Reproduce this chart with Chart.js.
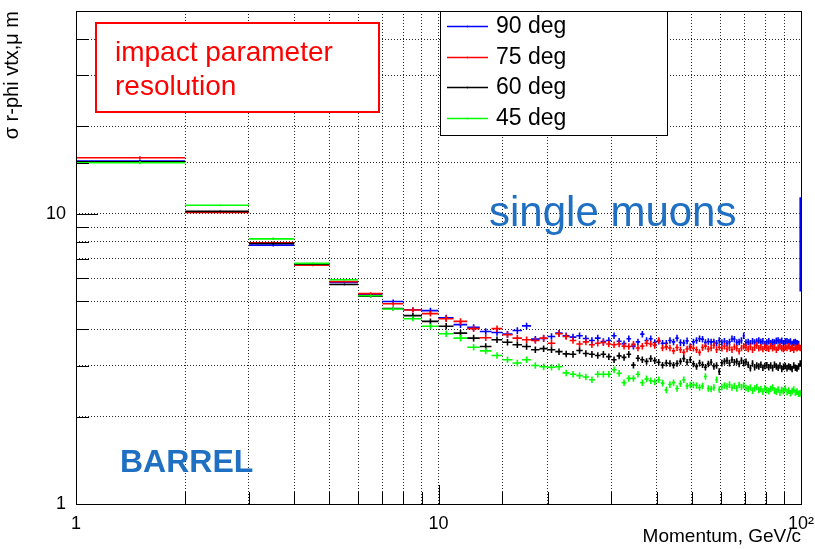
<!DOCTYPE html>
<html>
<head>
<meta charset="utf-8">
<script src="https://cdn.jsdelivr.net/npm/chart.js@4.4.1/dist/chart.umd.min.js"></script>
<style>
  html, body { margin: 0; padding: 0; background: #fff; }
  #wrap { width: 815px; height: 549px; position: relative; }
</style>
</head>
<body>
<div id="wrap"><canvas id="resolucao"></canvas></div>
<script>
// momentum bins: 1 GeV/c wide, from 1 to 100
const pFirst = 1;
const pLast = 100;

const seriesLabels = ["90 deg", "75 deg", "60 deg", "45 deg"];
const seriesColors = ["#0000ff", "#ff0000", "#000000", "#00ff00"];

// sigma r-phi (um), one value per bin
const sigma90 = [
  15.2, 10.15, 7.8, 6.7, 5.8, 5.28, 4.99, 4.67, 4.64, 4.38,
  4.15, 4.06, 3.93, 3.90, 3.85, 3.96, 4.11, 3.70, 3.72, 3.78,
  3.88, 3.80, 3.76, 3.80, 3.72, 3.66, 3.73, 3.63, 3.66, 3.80,
  3.64, 3.57, 3.71, 3.50, 3.62, 3.85, 3.66, 3.71, 3.60, 3.64,
  3.58, 3.58, 3.66, 3.62, 3.73, 3.60, 3.59, 3.65, 3.49, 3.62,
  3.66, 3.71, 3.70, 3.60, 3.63, 3.62, 3.62, 3.58, 3.66, 3.60,
  3.64, 3.58, 3.62, 3.71, 3.70, 3.60, 3.62, 3.66, 3.80, 3.60,
  3.62, 3.58, 3.64, 3.60, 3.63, 3.66, 3.62, 3.64, 3.56, 3.60,
  3.64, 3.58, 3.62, 3.60, 3.65, 3.66, 3.62, 3.65, 3.58, 3.63,
  3.64, 3.60, 3.63, 3.56, 3.60, 3.62, 3.58, 3.56, 8.4
];
const sigma75 = [
  15.6, 10.1, 7.95, 6.65, 5.84, 5.31, 4.90, 4.66, 4.53, 4.35,
  4.26, 4.02, 3.74, 4.02, 3.83, 3.73, 3.68, 3.66, 3.73, 3.58,
  3.86, 3.78, 3.66, 3.56, 3.62, 3.54, 3.58, 3.60, 3.56, 3.54,
  3.56, 3.50, 3.49, 3.55, 3.45, 3.50, 3.58, 3.56, 3.52, 3.66,
  3.45, 3.48, 3.45, 3.37, 3.46, 3.40, 3.33, 3.42, 3.46, 3.44,
  3.40, 3.33, 3.46, 3.50, 3.42, 3.45, 3.52, 3.40, 3.47, 3.44,
  3.50, 3.42, 3.46, 3.40, 3.48, 3.44, 3.36, 3.45, 3.50, 3.46,
  3.42, 3.48, 3.40, 3.46, 3.52, 3.44, 3.47, 3.42, 3.48, 3.45,
  3.43, 3.50, 3.44, 3.47, 3.40, 3.46, 3.49, 3.44, 3.42, 3.47,
  3.45, 3.50, 3.43, 3.46, 3.40, 3.47, 3.44, 3.48, 3.45
];
const sigma60 = [
  15.1, 10.2, 7.9, 6.7, 5.71, 5.20, 4.72, 4.46, 4.26, 4.10,
  3.88, 3.73, 3.49, 3.68, 3.61, 3.54, 3.49, 3.40, 3.43, 3.40,
  3.35, 3.29, 3.28, 3.38, 3.30, 3.28, 3.25, 3.28, 3.22, 3.14,
  3.24, 3.20, 3.28, 3.01, 3.18, 3.14, 3.10, 3.17, 3.12, 3.08,
  3.01, 3.06, 3.05, 3.01, 3.05, 3.10, 3.17, 3.08, 3.14, 3.04,
  2.98, 3.06, 3.02, 2.96, 3.04, 3.08, 2.98, 3.00, 2.86, 3.06,
  3.10, 3.12, 3.06, 3.14, 3.08, 3.10, 3.04, 3.12, 3.06, 3.09,
  3.02, 2.94, 3.05, 2.96, 3.00, 2.98, 3.02, 2.95, 2.99, 3.01,
  2.96, 3.00, 2.94, 3.02, 2.98, 2.95, 3.00, 2.92, 2.97, 2.99,
  2.94, 2.98, 2.96, 2.92, 3.00, 2.95, 2.93, 2.98, 3.05
];
const sigma45 = [
  15.0, 10.7, 8.2, 6.75, 5.93, 5.22, 4.70, 4.35, 4.10, 3.86,
  3.73, 3.47, 3.37, 3.25, 3.14, 3.06, 3.14, 3.00, 2.97, 2.96,
  2.97, 2.83, 2.80, 2.77, 2.74, 2.68, 2.80, 2.80, 2.80, 2.90,
  2.82, 2.62, 2.71, 2.71, 2.80, 2.62, 2.70, 2.66, 2.64, 2.68,
  2.61, 2.47, 2.58, 2.62, 2.50, 2.60, 2.68, 2.55, 2.57, 2.57,
  2.56, 2.52, 2.55, 2.75, 2.50, 2.49, 2.52, 2.68, 2.48, 2.53,
  2.56, 2.54, 2.58, 2.52, 2.55, 2.50, 2.57, 2.53, 2.56, 2.51,
  2.49, 2.52, 2.46, 2.50, 2.53, 2.47, 2.49, 2.44, 2.50, 2.47,
  2.45, 2.49, 2.52, 2.46, 2.44, 2.48, 2.42, 2.47, 2.45, 2.50,
  2.43, 2.46, 2.41, 2.45, 2.48, 2.42, 2.44, 2.40, 2.41
];

// relative errors: first bins read one by one, the rest are all about the same size
const relErrFirstBins = [0.012, 0.008, 0.01, 0.008, 0.008, 0.01, 0.016, 0.02, 0.022];
const relErrOther = 0.026;
const lastBinErr90 = 3.0;

const xTickLabels = { 1: "1", 10: "10", 100: "10\u00b2" };
const yTickLabels = { 1: "1", 10: "10" };

const binEdges = [];
for (let p = pFirst; p <= pLast; p++) binEdges.push(p);

function erroDoBin(valores, i) {
  const r = i < relErrFirstBins.length ? relErrFirstBins[i] : relErrOther;
  return valores[i] * r;
}

// each bin: a horizontal segment over the bin width plus a vertical error bar
function pontosHistograma(valores, erros) {
  const pts = [];
  for (let i = 0; i < valores.length; i++) {
    const lo = binEdges[i], hi = binEdges[i + 1], mid = (lo + hi) / 2;
    const v = valores[i], e = erros[i];
    pts.push({ x: lo, y: v }, { x: hi, y: v }, { x: hi, y: null });
    pts.push({ x: mid, y: v - e }, { x: mid, y: v + e }, { x: mid, y: null });
  }
  return pts;
}

const todasSeries = [sigma90, sigma75, sigma60, sigma45];
const datasets = todasSeries.map((valores, k) => {
  const erros = valores.map((_, i) => erroDoBin(valores, i));
  if (k === 0) erros[erros.length - 1] = lastBinErr90;
  return {
    label: seriesLabels[k],
    data: pontosHistograma(valores, erros),
    borderColor: seriesColors[k],
    backgroundColor: seriesColors[k],
    borderWidth: 1.6,
    pointRadius: 0,
    showLine: true,
    spanGaps: false,
    order: 4 - k,
  };
});

const fonte = "'Liberation Sans', Arial, Helvetica, sans-serif";

const ticksInternos = {
  id: "ticksInternos",
  afterDatasetsDraw(chart) {
    const { ctx, chartArea: a, scales } = chart;
    ctx.save();
    ctx.strokeStyle = "#000";
    ctx.lineWidth = 1;
    ctx.beginPath();
    scales.x.ticks.forEach((t) => {
      const px = Math.round(scales.x.getPixelForValue(t.value)) + 0.5;
      const len = xTickLabels[t.value] ? 19 : 12;
      ctx.moveTo(px, a.bottom);
      ctx.lineTo(px, a.bottom - len);
    });
    scales.y.ticks.forEach((t) => {
      const py = Math.round(scales.y.getPixelForValue(t.value)) + 0.5;
      const len = yTickLabels[t.value] ? 22 : 13;
      ctx.moveTo(a.left, py);
      ctx.lineTo(a.left + len, py);
    });
    ctx.stroke();
    ctx.strokeRect(a.left + 0.5, a.top + 0.5, a.right - a.left, a.bottom - a.top);
    ctx.restore();
  },
};

const anotacoes = {
  id: "anotacoes",
  afterDraw(chart) {
    const ctx = chart.ctx;
    ctx.save();

    // legend box
    ctx.fillStyle = "#fff";
    ctx.fillRect(440, 11, 227, 124);
    ctx.strokeStyle = "#000";
    ctx.lineWidth = 1;
    ctx.strokeRect(440.5, 11.5, 227, 124);
    ctx.font = "23px " + fonte;
    ctx.textBaseline = "alphabetic";
    ctx.textAlign = "left";
    seriesLabels.forEach((lab, i) => {
      const base = 33 + i * 30.6;
      const ly = Math.round(base - 7) + 0.5;
      ctx.strokeStyle = seriesColors[i];
      ctx.lineWidth = 1.3;
      ctx.beginPath();
      ctx.moveTo(447, ly);
      ctx.lineTo(488, ly);
      ctx.moveTo(467.5, ly - 1);
      ctx.lineTo(467.5, ly + 1);
      ctx.stroke();
      ctx.fillStyle = "#000";
      ctx.fillText(lab, 496, base);
    });

    // red text box
    ctx.fillStyle = "#fff";
    ctx.fillRect(96, 23, 283, 89);
    ctx.strokeStyle = "#ff0000";
    ctx.lineWidth = 2;
    ctx.strokeRect(96, 23, 283, 89);
    ctx.fillStyle = "#ff0000";
    ctx.font = "28px " + fonte;
    ctx.fillText("impact parameter", 115, 61);
    ctx.fillText("resolution", 115, 95);

    ctx.fillStyle = "#1f6fc2";
    ctx.font = "42px " + fonte;
    ctx.fillText("single muons", 489, 226);
    ctx.font = "bold 32px " + fonte;
    ctx.fillText("BARREL", 120, 472);

    ctx.restore();
  },
};

const ctx = document.getElementById("resolucao");
const myChart = new Chart(ctx, {
  type: "scatter",
  data: { datasets: datasets },
  options: {
    responsive: true,
    maintainAspectRatio: false,
    animation: false,
    layout: { padding: { top: 11, right: 14, left: 0, bottom: 0 } },
    plugins: { legend: { display: false }, tooltip: { enabled: false } },
    scales: {
      x: {
        type: "logarithmic",
        min: pFirst,
        max: pLast,
        afterFit: (s) => { s.height = 45; s.paddingLeft = 0; s.paddingRight = 0; },
        grid: { color: "rgba(0,0,0,0.85)", lineWidth: 1, drawTicks: false },
        border: { display: false, dash: [1, 2] },
        ticks: {
          autoSkip: false,
          maxRotation: 0,
          padding: 9,
          color: "#000",
          font: { family: fonte, size: 18 },
          callback: (v) => xTickLabels[v] || "",
        },
        title: {
          display: true,
          text: "Momentum, GeV/c",
          align: "end",
          color: "#000",
          font: { family: fonte, size: 19 },
          padding: { top: 0, bottom: 1 },
        },
      },
      y: {
        type: "logarithmic",
        min: 1,
        max: 50,
        afterFit: (s) => { s.width = 76; s.paddingTop = 0; s.paddingBottom = 0; },
        grid: { color: "rgba(0,0,0,0.85)", lineWidth: 1, drawTicks: false },
        border: { display: false, dash: [1, 2] },
        ticks: {
          autoSkip: false,
          padding: 10,
          color: "#000",
          font: { family: fonte, size: 18 },
          callback: (v) => yTickLabels[v] || "",
        },
        title: {
          display: true,
          text: "\u03c3 r-phi vtx,\u03bc m",
          align: "end",
          color: "#000",
          font: { family: fonte, size: 20 },
          padding: { top: 0, bottom: 0 },
        },
      },
    },
  },
  plugins: [ticksInternos, anotacoes],
});
</script>
</body>
</html>
